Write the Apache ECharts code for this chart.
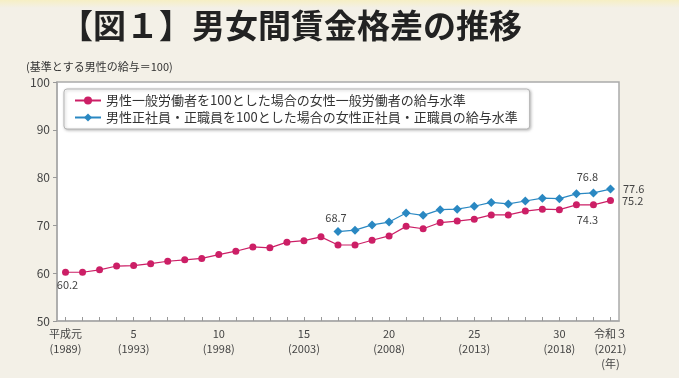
<!DOCTYPE html>
<html><head><meta charset="utf-8">
<script src="https://cdn.jsdelivr.net/npm/echarts@6/dist/echarts.min.js"></script>
<style>html,body{margin:0;padding:0;background:#f3f0e7;}#c{width:679px;height:378px;}</style>
</head><body><div id="c"></div>
<script>
var years = ['1989','1990','1991','1992','1993','1994','1995','1996','1997','1998','1999','2000','2001','2002','2003','2004','2005','2006','2007','2008','2009','2010','2011','2012','2013','2014','2015','2016','2017','2018','2019','2020','2021'];
var tickLabels = {0:'平成元\n(1989)',4:'5\n(1993)',9:'10\n(1998)',14:'15\n(2003)',19:'20\n(2008)',24:'25\n(2013)',29:'30\n(2018)',32:'令和３\n(2021)\n(年)'};
var generalWorkers = [60.2,60.2,60.7,61.5,61.6,62.0,62.5,62.8,63.1,63.9,64.6,65.5,65.3,66.5,66.8,67.6,65.9,65.9,66.9,67.8,69.8,69.3,70.6,70.9,71.3,72.2,72.2,73.0,73.4,73.3,74.3,74.3,75.2];
var regularWorkers = [null,null,null,null,null,null,null,null,null,null,null,null,null,null,null,null,68.7,69.0,70.1,70.7,72.6,72.1,73.3,73.4,74.0,74.8,74.5,75.1,75.7,75.6,76.6,76.8,77.6];
var seriesNames = ['男性一般労働者を100とした場合の女性一般労働者の給与水準','男性正社員・正職員を100とした場合の女性正社員・正職員の給与水準'];

var FONT = '"Noto Sans CJK JP","Noto Sans",sans-serif';
function withLabels(arr, spec){
  return arr.map(function(v,i){
    if (spec[i]) return {value:v, label:Object.assign({show:true, formatter:function(p){return p.value.toFixed(1);}, color:'#444', fontSize:11, fontFamily:FONT}, spec[i])};
    return v;
  });
}
var magentaLabels = {0:{position:'bottom', distance:4, offset:[2,0]}, 31:{position:'bottom', distance:6, offset:[-6,0]}, 32:{position:'right', distance:8, offset:[0,0]}};
var blueLabels = {16:{position:'top', distance:4, offset:[-2,0]}, 31:{position:'top', distance:6, offset:[-6,0]}, 32:{position:'right', distance:8, offset:[0,0]}};

var chart = echarts.init(document.getElementById('c'));
chart.setOption({
  backgroundColor:'#f3f0e7',
  animation:false,
  graphic:[
    {type:'rect', left:0, top:0, shape:{width:679,height:8}, style:{fill:new echarts.graphic.LinearGradient(0,0,0,1,[{offset:0,color:'#f6efc4'},{offset:1,color:'#f3f0e7'}])}, z:-1},
    {type:'text', left:60, top:9, style:{text:'【図１】男女間賃金格差の推移', font:'bold 33px "Noto Sans CJK JP"', fill:'#222'}},
    {type:'text', left:26, top:61, style:{text:'(基準とする男性の給与＝100)', font:'11px "Noto Sans CJK JP"', fill:'#333'}}
  ],
  grid:{left:57, right:60, top:82, bottom:57, show:true, backgroundColor:'#ffffff', borderColor:'#aaaaaa', borderWidth:1.5},
  legend:{
    orient:'vertical', left:64, top:89, padding:[5,12,5,10], itemGap:4, itemWidth:26, itemHeight:10,
    backgroundColor:'#ffffff', borderColor:'#b5b5b5', borderWidth:1, borderRadius:3,
    shadowColor:'rgba(0,0,0,0.25)', shadowBlur:3, shadowOffsetX:1, shadowOffsetY:1,
    textStyle:{fontSize:13, color:'#333', fontFamily:FONT},
    data:seriesNames
  },
  xAxis:{
    type:'category', data:years, boundaryGap:true,
    axisLine:{lineStyle:{color:'#aaaaaa', width:1.5}},
    axisTick:{show:true, inside:true, alignWithLabel:true, interval:0, length:4, lineStyle:{color:'#999'}},
    axisLabel:{interval:0, color:'#444', fontSize:11, lineHeight:15, margin:5, fontFamily:FONT,
      formatter:function(v,i){return tickLabels[i]||'';}}
  },
  yAxis:{
    type:'value', min:50, max:100, interval:10,
    axisLine:{show:true, lineStyle:{color:'#aaaaaa', width:1.5}},
    axisTick:{show:true, length:4, lineStyle:{color:'#999'}},
    splitLine:{show:false},
    axisLabel:{color:'#444', fontSize:12, margin:7, fontFamily:FONT}
  },
  series:[
    {name:seriesNames[0], type:'line', data:withLabels(generalWorkers, magentaLabels), symbol:'circle', symbolSize:7,
     itemStyle:{color:'#cc1f66'}, lineStyle:{width:1.2, color:'#cc1f66'}},
    {name:seriesNames[1], type:'line', data:withLabels(regularWorkers, blueLabels), symbol:'diamond', symbolSize:9,
     itemStyle:{color:'#2a88c2'}, lineStyle:{width:1.2, color:'#2a88c2'}}
  ]
});
</script></body></html>
